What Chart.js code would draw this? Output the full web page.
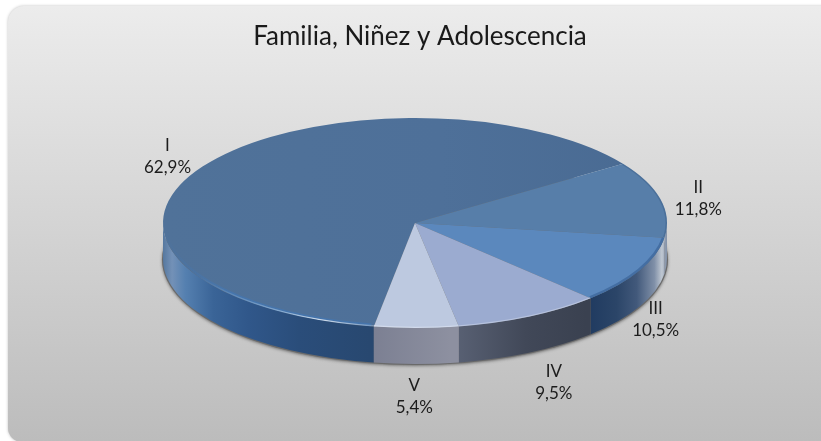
<!DOCTYPE html>
<html><head><meta charset="utf-8">
<style>html,body{margin:0;padding:0;background:#fff}canvas{display:block}</style>
<script src="https://cdn.jsdelivr.net/npm/chart.js@4"></script>
</head><body><canvas id="c" width="821" height="441"></canvas>
<script>
const titleText = 'Familia, Niñez y Adolescencia';
const categories = ['I','II','III','IV','V'];
const shares = [62.9,11.8,10.5,9.5,5.4];
const shareLabels = ['62,9%','11,8%','10,5%','9,5%','5,4%'];
const faceColors = ['#4e7098','#577ea9','#5b88bd','#9babd0','#bdc9e0'];
const wallStops = [
  [[0,'#56789f'],[0.018,'#7391b7'],[0.044,'#5580b0'],[0.1,'#3a6497'],[0.17,'#30578a'],[0.27,'#2a4d7a'],[0.41,'#284870']],
  [[0.98,'#b8c2d0'],[1,'#8492a8']],
  [[0.84,'#1f3a60'],[0.9,'#2b4568'],[0.94,'#42597b'],[0.975,'#8090a8'],[0.99,'#c0c8d2'],[1,'#8492a8']],
  [[0.58,'#596174'],[0.72,'#414858'],[0.84,'#3a4150']],
  [[0.41,'#7b7f92'],[0.57,'#8d90a0']]
];
const labelNudge = [[-35,-10],[38,-1],[16,13],[24,30],[-2,33]];
const radiusX = 252, radiusY = 105, depth = 36;

const ctx0 = document.getElementById('c').getContext('2d');
const faceI = ctx0.createLinearGradient(163,0,667,0);
faceI.addColorStop(0,'#507299'); faceI.addColorStop(0.55,'#4e7099'); faceI.addColorStop(1,'#496a92');
const faceFill = faceColors.slice(); faceFill[0] = faceI;

const pie3d = {
  id:'pie3d',
  afterLayout(chart){
    chart.titleBlock.left += 5; chart.titleBlock.right += 5;
  },
  beforeDraw(chart){
    const c = chart.ctx, W = chart.width;
    c.save();
    c.fillStyle = '#fff'; c.fillRect(0,0,W,chart.height);
    const g = c.createLinearGradient(0,6,0,441);
    g.addColorStop(0,'#ececec'); g.addColorStop(1,'#bcbcbc');
    c.shadowColor='rgba(0,0,0,0.25)'; c.shadowBlur=3;
    c.beginPath(); c.roundRect(8,6,W+20,436,[16,0,0,14]);
    c.fillStyle=g; c.fill();
    c.restore();
  },
  beforeDatasetsDraw(chart){
    const c = chart.ctx, arcs = chart.getDatasetMeta(0).data, a0 = arcs[0];
    const cx=a0.x, cy=a0.y, left=cx-radiusX, span=2*radiusX;
    c.save();
    c.save();
    c.shadowColor='rgba(60,60,60,0.6)'; c.shadowBlur=3; c.shadowOffsetY=1;
    c.fillStyle='#6a6a6a';
    c.beginPath(); c.ellipse(cx,cy+depth+0.5,radiusX+1,radiusY+0.5,0,0,Math.PI*2); c.fill();
    c.restore();
    arcs.forEach((a,i)=>{
      const s=a.startAngle, e=a.endAngle;
      for (let k=-1;k<=1;k++){
        const lo=Math.max(s,2*Math.PI*k), hi=Math.min(e,2*Math.PI*k+Math.PI);
        if (hi<=lo) continue;
        const g=c.createLinearGradient(left,0,left+span,0);
        wallStops[i].forEach(p=>g.addColorStop(p[0],p[1]));
        c.fillStyle=g;
        c.beginPath();
        c.ellipse(cx,cy,radiusX,radiusY,0,lo,hi);
        c.ellipse(cx,cy+depth,radiusX,radiusY,0,hi,lo,true);
        c.closePath(); c.fill();
      }
    });
    c.restore();
    c.save();
    c.translate(cx,cy); c.scale(1,radiusY/radiusX); c.translate(-cx,-cy);
  },
  afterDatasetsDraw(chart){
    const c = chart.ctx, arcs = chart.getDatasetMeta(0).data, a0 = arcs[0];
    const cx=a0.x, cy=a0.y;
    c.restore();
    c.save();
    c.beginPath(); c.ellipse(cx,cy,radiusX,radiusY,0,0,Math.PI*2); c.clip();
    const rim=(i,col,w,inset,lo,hi)=>{
      const a=arcs[i];
      const s=lo===undefined?a.startAngle:lo, e=hi===undefined?a.endAngle:hi;
      c.beginPath(); c.ellipse(cx,cy,radiusX-inset,radiusY-inset,0,s,e);
      c.strokeStyle=col; c.lineWidth=w; c.stroke();
    };
    const d=Math.PI/180;
    const blue=c.createLinearGradient(cx-radiusX,0,cx-radiusX+70,0);
    blue.addColorStop(0,'rgba(60,120,190,0)'); blue.addColorStop(1,'rgba(60,120,190,0.5)');
    rim(0,blue,4,1,100*d,180*d);
    rim(2,'rgba(40,80,130,0.45)',3,1);
    rim(1,'rgba(40,70,110,0.25)',2,0.5);
    const glow=c.createLinearGradient(200,0,372,0);
    glow.addColorStop(0,'rgba(190,220,245,0)');
    glow.addColorStop(0.45,'rgba(200,225,245,0.45)');
    glow.addColorStop(0.7,'rgba(255,255,255,0.75)');
    glow.addColorStop(1,'rgba(255,255,255,0.25)');
    rim(0,glow,1.4,0.7,99*d,170*d);
    rim(3,'rgba(235,240,250,0.35)',1.5,0.5);
    rim(4,'rgba(235,240,250,0.45)',1.5,0.5);
    c.restore();
    c.save();
    c.font='17px Lato'; c.fillStyle='#1c1c1c';
    c.textAlign='center'; c.textBaseline='middle';
    arcs.forEach((a,i)=>{
      const m=(a.startAngle+a.endAngle)/2;
      const low=Math.sin(m)>0.3;
      const x=cx+Math.cos(m)*radiusX+labelNudge[i][0];
      const y=cy+Math.sin(m)*radiusY+(low?depth:0)+labelNudge[i][1];
      c.fillText(categories[i],x,y-11);
      c.fillText(shareLabels[i],x,y+11);
    });
    c.restore();
  }
};

new Chart(ctx0,{
  type:'pie',
  data:{labels:categories,datasets:[{data:shares,backgroundColor:faceFill,borderWidth:0}]},
  options:{
    responsive:false,animation:false,events:[],
    rotation:-170.6,
    radius:radiusX,
    layout:{padding:{left:9,right:0,top:0,bottom:52.2}},
    plugins:{
      legend:{display:false},tooltip:{enabled:false},
      title:{display:true,text:titleText,color:'#1a1a1a',
        font:{family:'Lato',size:26,weight:'normal',lineHeight:1.2},
        padding:{top:21,bottom:5}}
    }
  },
  plugins:[pie3d]
});
</script></body></html>
